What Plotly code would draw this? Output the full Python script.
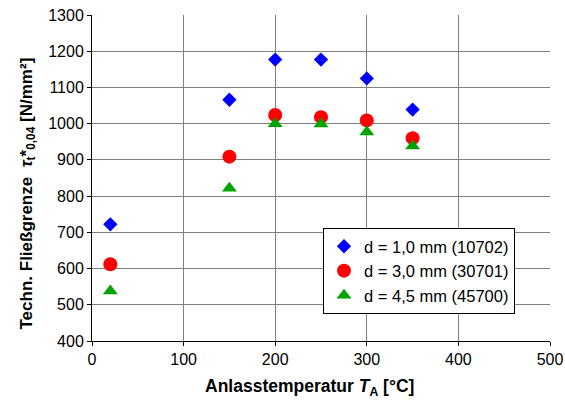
import plotly.graph_objects as go

temps = [20, 150, 200, 250, 300, 350]
tau_d10 = [722, 1066, 1177, 1177, 1125, 1039]
tau_d30 = [612, 909, 1024, 1018, 1009, 960]
tau_d45 = [538, 822, 1000, 999, 977, 938]

names = ["d = 1,0 mm (10702)", "d = 3,0 mm (30701)", "d = 4,5 mm (45700)"]
colors = ["#0000FF", "#FF0000", "#00A400"]
symbols = ["diamond", "circle", "triangle-up"]
sizes = [11, 14, 13]

x_title = "<b>Anlasstemperatur <i>T</i><sub>A</sub> [°C]</b>"
y_title = "<b>Techn. Fließgrenze  <i>τ</i><sub>t</sub>*<sub>0,04</sub> [N/mm²]</b>"

fig = go.Figure()
for y, n, c, s, sz in zip([tau_d10, tau_d30, tau_d45], names, colors, symbols, sizes):
    fig.add_trace(go.Scatter(x=temps, y=y, mode="markers", name=n,
                             marker=dict(color=c, symbol=s, size=sz, line=dict(width=0))))

font = "Liberation Sans, Arial, sans-serif"
L, R, T, B, W, H = 92, 15, 15, 67, 565, 408
pw, ph = W - L - R, H - T - B

fig.update_layout(
    width=W, height=H,
    margin=dict(l=L, r=R, t=T, b=B, autoexpand=False),
    paper_bgcolor="white", plot_bgcolor="white",
    font=dict(family=font, size=16, color="black"),
    showlegend=True,
    legend=dict(x=(323 - L) / pw, y=(H - B - 228) / ph, xanchor="left", yanchor="top",
                bordercolor="black", borderwidth=1, bgcolor="white",
                font=dict(size=16.5), itemwidth=30, tracegroupgap=0),
    annotations=[
        dict(text=x_title, xref="paper", yref="paper", showarrow=False,
             x=(309 - L) / pw, y=-(387 - (H - B)) / ph, xanchor="center", yanchor="middle",
             font=dict(size=17.5)),
        dict(text=y_title, xref="paper", yref="paper", showarrow=False, textangle=-90,
             x=(27 - L) / pw, y=(H - B - 193.5) / ph, xanchor="center", yanchor="middle",
             font=dict(size=17)),
    ],
)
fig.update_xaxes(range=[0, 500], dtick=100, tick0=0, showgrid=True, gridcolor="#808080", gridwidth=1,
                 showline=True, linecolor="black", linewidth=1, automargin=False,
                 ticks="outside", ticklen=4, tickcolor="black", zeroline=False)
fig.update_yaxes(range=[400, 1300], dtick=100, tick0=400, showgrid=True, gridcolor="#808080", gridwidth=1,
                 showline=True, linecolor="black", linewidth=1, automargin=False,
                 ticks="outside", ticklen=4, tickcolor="black", zeroline=False)

fig.write_html("out.html")
